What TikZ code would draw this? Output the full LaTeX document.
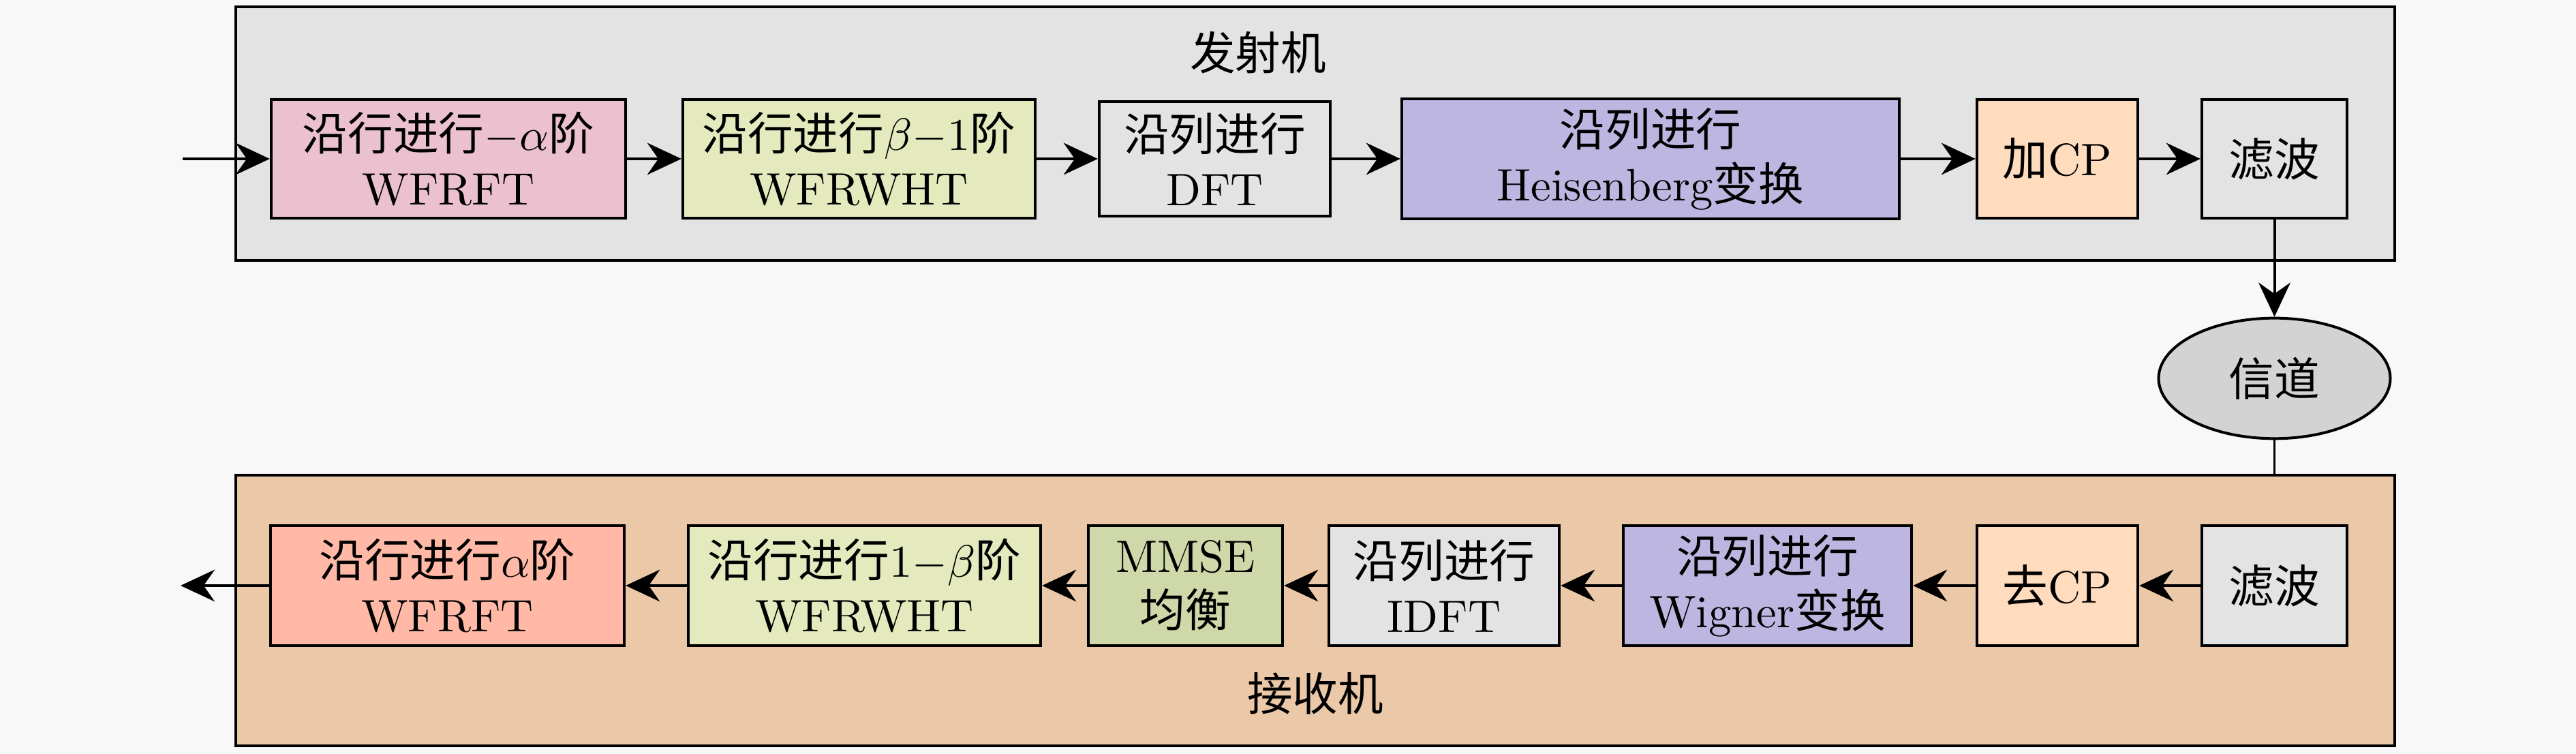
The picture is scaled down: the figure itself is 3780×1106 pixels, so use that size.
\documentclass[tikz,border=0pt]{standalone}
\usepackage{fontspec}
\newfontfamily\cjk{Noto Sans CJK SC}
\usetikzlibrary{arrows.meta,shapes.geometric}
\definecolor{bgc}{HTML}{F8F8F8}
\definecolor{txbg}{HTML}{E3E3E3}
\definecolor{rxbg}{HTML}{EBC8A8}
\definecolor{pinkc}{HTML}{EBC0CF}
\definecolor{ygc}{HTML}{E5EABE}
\definecolor{grayc}{HTML}{E3E3E3}
\definecolor{lavc}{HTML}{BDB6E0}
\definecolor{peachc}{HTML}{FFDCBE}
\definecolor{salmc}{HTML}{FFB9A6}
\definecolor{olivec}{HTML}{CFD8A8}
\definecolor{chanc}{HTML}{D3D3D3}
\begin{document}
\begin{tikzpicture}[x=0.15pt,y=-0.15pt,
  blk/.style={draw=black, line width=0.65pt, rectangle, inner sep=0pt, align=center, text=black},
  sz/.style 2 args={minimum width=#1*0.15pt, minimum height=#2*0.15pt},
  outer/.style={draw=black, line width=0.65pt, rectangle, inner sep=0pt},
  conn/.style={line width=0.6pt, -{Stealth[length=7.5pt,width=7pt]}},
  plain/.style={line width=0.5pt}
]
\fill[bgc] (0,0) rectangle (3780,1106);
\useasboundingbox (0,0) rectangle (3780,1106);

% containers
\node[outer, fill=txbg, sz={3168}{372}] (tx) at (1930,196) {};
\node[outer, fill=rxbg, sz={3168}{397}] (rx) at (1930,895.5) {};
\node[inner sep=0pt] (txlab) at (1846,77) {\cjk 发射机};
\node[inner sep=0pt] (rxlab) at (1930,1017) {\cjk 接收机};

% transmitter row
\node[blk, fill=pinkc, sz={520}{174}] (t1) at (658,233) {{\cjk 沿行进行}$-\alpha${\cjk 阶}\\WFRFT};
\node[blk, fill=ygc, sz={517}{174}] (t2) at (1260.5,233) {{\cjk 沿行进行}$\beta{-}1${\cjk 阶}\\WFRWHT};
\node[blk, fill=grayc, sz={339}{168}] (t3) at (1782.5,233) {{\cjk 沿列进行}\\DFT};
\node[blk, fill=lavc, sz={730}{176}] (t4) at (2422,233) {{\cjk 沿列进行}\\Heisenberg{\cjk 变换}};
\node[blk, fill=peachc, sz={236}{174}] (t5) at (3019,233) {{\cjk 加}CP};
\node[blk, fill=grayc, sz={213}{174}] (t6) at (3337.5,233) {\cjk 滤波};

% channel
\node[ellipse, draw=black, line width=0.6pt, fill=chanc, inner sep=0pt, minimum width=51pt, minimum height=26.5pt] (ch) at (3337.5,555) {\cjk 信道};

% receiver row
\node[blk, fill=salmc, sz={519}{176}] (b1) at (656.5,859) {{\cjk 沿行进行}$\alpha${\cjk 阶}\\WFRFT};
\node[blk, fill=ygc, sz={517}{176}] (b2) at (1268.5,859) {{\cjk 沿行进行}$1{-}\beta${\cjk 阶}\\WFRWHT};
\node[blk, fill=olivec, sz={285}{176}] (b3) at (1739.5,859) {MMSE\\{\cjk 均衡}};
\node[blk, fill=grayc, sz={338}{176}] (b4) at (2119,859) {{\cjk 沿列进行}\\IDFT};
\node[blk, fill=lavc, sz={423}{176}] (b5) at (2593.5,859) {{\cjk 沿列进行}\\Wigner{\cjk 变换}};
\node[blk, fill=peachc, sz={236}{176}] (b6) at (3019,859) {{\cjk 去}CP};
\node[blk, fill=grayc, sz={213}{176}] (b7) at (3337.5,859) {\cjk 滤波};

\coordinate (in) at (268,233);
\coordinate (out) at (265,859);

% connectors
\draw[conn] (in) -- (t1.west);
\draw[conn] (t1) -- (t2);
\draw[conn] (t2) -- (t3);
\draw[conn] (t3) -- (t4);
\draw[conn] (t4) -- (t5);
\draw[conn] (t5) -- (t6);
\draw[conn] (t6) -- (ch);
\draw[plain] (ch.south) -- (ch.south |- rx.north);
\draw[conn] (b7) -- (b6);
\draw[conn] (b6) -- (b5);
\draw[conn] (b5) -- (b4);
\draw[conn] (b4) -- (b3);
\draw[conn] (b3) -- (b2);
\draw[conn] (b2) -- (b1);
\draw[conn] (b1.west) -- (out);
\end{tikzpicture}
\end{document}
